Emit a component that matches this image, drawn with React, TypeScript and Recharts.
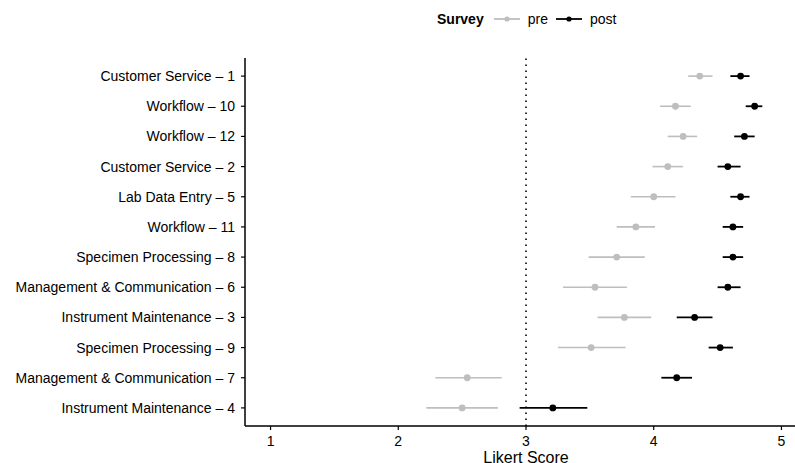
import { ScatterChart, Scatter, XAxis, YAxis, ErrorBar, ReferenceLine, Legend } from 'recharts';

const items = [
  'Customer Service – 1',
  'Workflow – 10',
  'Workflow – 12',
  'Customer Service – 2',
  'Lab Data Entry – 5',
  'Workflow – 11',
  'Specimen Processing – 8',
  'Management & Communication – 6',
  'Instrument Maintenance – 3',
  'Specimen Processing – 9',
  'Management & Communication – 7',
  'Instrument Maintenance – 4',
];

const preMean = [4.36, 4.17, 4.23, 4.11, 4.0, 3.86, 3.71, 3.54, 3.77, 3.51, 2.54, 2.5];
const preLow = [4.27, 4.05, 4.11, 3.99, 3.82, 3.71, 3.49, 3.29, 3.56, 3.25, 2.29, 2.22];
const preHigh = [4.46, 4.29, 4.34, 4.23, 4.17, 4.01, 3.93, 3.79, 3.98, 3.78, 2.81, 2.78];

const postMean = [4.68, 4.79, 4.71, 4.58, 4.68, 4.62, 4.62, 4.58, 4.32, 4.52, 4.18, 3.21];
const postLow = [4.6, 4.72, 4.63, 4.5, 4.6, 4.54, 4.54, 4.5, 4.18, 4.43, 4.06, 2.95];
const postHigh = [4.75, 4.85, 4.79, 4.68, 4.75, 4.7, 4.7, 4.68, 4.46, 4.62, 4.3, 3.48];

const xTicks = [1, 2, 3, 4, 5];
const rowTicks = items.map((_, i) => i + 1);
const legendOrder = ['pre', 'post'];

const PRE = '#BEBEBE';
const POST = '#000000';
const FONT = '"Liberation Sans", Arial, Helvetica, sans-serif';

const build = (mean: number[], low: number[], high: number[]) =>
  mean.map((m, i) => ({
    y: i + 1,
    x: m,
    err: [m - low[i], high[i] - m],
  }));

const preData = build(preMean, preLow, preHigh);
const postData = build(postMean, postLow, postHigh);

const dot = (color: string) => (props: any) => (
  <circle cx={props.cx} cy={props.cy} r={3.4} fill={color} />
);

function SurveyLegend(props: any) {
  const payload = [...(props.payload || [])].sort(
    (a: any, b: any) => legendOrder.indexOf(a.value) - legendOrder.indexOf(b.value)
  );
  return (
    <div style={{ display: 'flex', alignItems: 'center', fontFamily: FONT, fontSize: 14, color: '#000' }}>
      <span style={{ fontWeight: 'bold', marginRight: 10 }}>Survey</span>
      {payload.map((p: any) => (
        <span key={p.value} style={{ display: 'flex', alignItems: 'center', marginRight: 8 }}>
          <svg width={26} height={10} style={{ marginRight: 8 }}>
            <line x1={0} y1={5} x2={26} y2={5} stroke={p.color} strokeWidth={1.8} />
            <circle cx={13} cy={5} r={2.6} fill={p.color} />
          </svg>
          {p.value}
        </span>
      ))}
    </div>
  );
}

export default function App() {
  return (
    <div style={{ position: 'absolute', left: 0, top: 0, width: 795, height: 463, overflow: 'hidden', background: '#fff' }}>
      <ScatterChart width={820} height={466} margin={{ top: 58, right: 13, left: 0, bottom: 0 }}>
        <XAxis
          type="number"
          dataKey="x"
          domain={[0.8, 5.2]}
          ticks={xTicks}
          height={40}
          tickSize={4}
          tickMargin={6}
          axisLine={{ stroke: '#000', strokeWidth: 1.5 }}
          tickLine={{ stroke: '#000', strokeWidth: 1.2 }}
          tick={{ fontSize: 14, fill: '#000', fontFamily: FONT }}
          label={{ value: 'Likert Score', position: 'insideBottom', offset: 3, style: { fontSize: 16, fill: '#000', fontFamily: FONT } }}
        />
        <YAxis
          type="number"
          dataKey="y"
          domain={[0.4, 12.6]}
          ticks={rowTicks}
          reversed
          interval={0}
          width={245}
          tickSize={4}
          tickMargin={6}
          tickFormatter={(v: number) => items[v - 1]}
          axisLine={{ stroke: '#000', strokeWidth: 1.5 }}
          tickLine={{ stroke: '#000', strokeWidth: 1.2 }}
          tick={{ fontSize: 14, fill: '#000', fontFamily: FONT }}
        />
        <ReferenceLine x={3} stroke="#000" strokeWidth={1.6} strokeDasharray="1.5 4.5" />
        <Legend
          layout="horizontal"
          verticalAlign="middle"
          align="center"
          content={<SurveyLegend />}
          wrapperStyle={{ top: 11, left: 437, width: 'auto' }}
        />
        <Scatter name="pre" data={preData} fill={PRE} shape={dot(PRE)} isAnimationActive={false}>
          <ErrorBar dataKey="err" direction="x" width={0} stroke={PRE} strokeWidth={1.6} />
        </Scatter>
        <Scatter name="post" data={postData} fill={POST} shape={dot(POST)} isAnimationActive={false}>
          <ErrorBar dataKey="err" direction="x" width={0} stroke={POST} strokeWidth={1.8} />
        </Scatter>
      </ScatterChart>
    </div>
  );
}
